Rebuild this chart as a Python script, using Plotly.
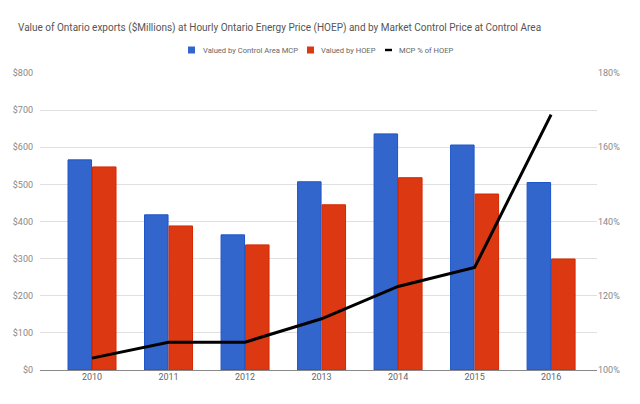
import plotly.graph_objects as go

years = ["2010", "2011", "2012", "2013", "2014", "2015", "2016"]
mcp_values = [566, 418, 364, 507, 636, 606, 505]
hoep_values = [547, 388, 337, 445, 518, 474, 299]
mcp_pct_of_hoep = [103.2, 107.5, 107.5, 113.8, 122.5, 127.6, 168.8]

left_ticks = [0, 100, 200, 300, 400, 500, 600, 700, 800]
left_labels = ["$" + str(v) for v in left_ticks]
right_ticks = [100, 120, 140, 160, 180]
right_labels = [str(v) + "%" for v in right_ticks]

series_names = ["Valued by Control Area MCP", "Valued by HOEP", "MCP % of HOEP"]
series_colors = ["#3366cc", "#dc3912", "#000000"]

font_family = "Roboto, Arial, sans-serif"
xs = list(range(len(years)))

W, H = 640, 404
ML, MR, MT, MB = 40, 43, 73, 34
PW, PH = W - ML - MR, H - MT - MB


def px_x(x):
    return (x - ML) / PW


def px_y(y):
    return (H - MB - y) / PH


fig = go.Figure()
fig.add_trace(go.Bar(
    x=xs, y=mcp_values, name=series_names[0],
    marker=dict(color=series_colors[0], line=dict(color="#1c55c8", width=1)),
))
fig.add_trace(go.Bar(
    x=xs, y=hoep_values, name=series_names[1],
    marker=dict(color=series_colors[1], line=dict(color="#d62800", width=1)),
))
fig.add_trace(go.Scatter(
    x=xs, y=mcp_pct_of_hoep, name=series_names[2], yaxis="y2",
    mode="lines", line=dict(color=series_colors[2], width=3),
))

# custom compact legend (Google-Charts style)
legend_items = [
    (188, 201, "square"),
    (307, 319, "square"),
    (385, 397, "line"),
]
shapes = []
annotations = []
for (sx, tx, kind), name, col in zip(legend_items, series_names, series_colors):
    if kind == "square":
        shapes.append(dict(type="rect", xref="paper", yref="paper",
                           x0=px_x(sx), x1=px_x(sx + 7), y0=px_y(53.5), y1=px_y(46.5),
                           fillcolor=col, line=dict(width=0)))
    else:
        shapes.append(dict(type="rect", xref="paper", yref="paper",
                           x0=px_x(sx), x1=px_x(sx + 7), y0=px_y(51.2), y1=px_y(48.8),
                           fillcolor=col, line=dict(width=0)))
    annotations.append(dict(xref="paper", yref="paper", x=px_x(tx), y=px_y(50),
                            xanchor="left", yanchor="middle", showarrow=False,
                            text=name, font=dict(family=font_family, size=7.6, color="#666666")))

fig.update_layout(
    width=W, height=H,
    paper_bgcolor="white", plot_bgcolor="white",
    margin=dict(l=ML, r=MR, t=MT, b=MB),
    barmode="group", bargap=0.36, bargroupgap=0.04,
    showlegend=False,
    font=dict(family=font_family, size=9, color="#666666"),
    title=dict(
        text="Value of Ontario exports ($Millions) at Hourly Ontario Energy Price (HOEP) and by Market Control Price at Control Area",
        x=18 / W, xanchor="left", y=1 - 27 / H, yanchor="middle",
        font=dict(family=font_family, size=10, color="#555555"),
    ),
    shapes=shapes,
    annotations=annotations,
    xaxis=dict(
        range=[-0.68, 6.6], tickmode="array", tickvals=xs, ticktext=years,
        showgrid=False, showline=False, zeroline=False, ticks="",
        tickfont=dict(size=9, color="#666666"),
    ),
    yaxis=dict(
        range=[0, 800], tickmode="array", tickvals=left_ticks, ticktext=left_labels,
        showgrid=True, gridcolor="#e0e0e0", gridwidth=1,
        zeroline=True, zerolinecolor="#888888", zerolinewidth=1,
        ticks="", ticklabelstandoff=6,
        tickfont=dict(size=9, color="#888888"),
    ),
    yaxis2=dict(
        range=[100, 180], overlaying="y", side="right",
        tickmode="array", tickvals=right_ticks, ticktext=right_labels,
        showgrid=False, zeroline=False, ticks="",
        tickfont=dict(size=9, color="#888888"),
    ),
)

fig.write_html("out.html", config={"displayModeBar": False},
               post_script="document.body.style.margin='0';")
